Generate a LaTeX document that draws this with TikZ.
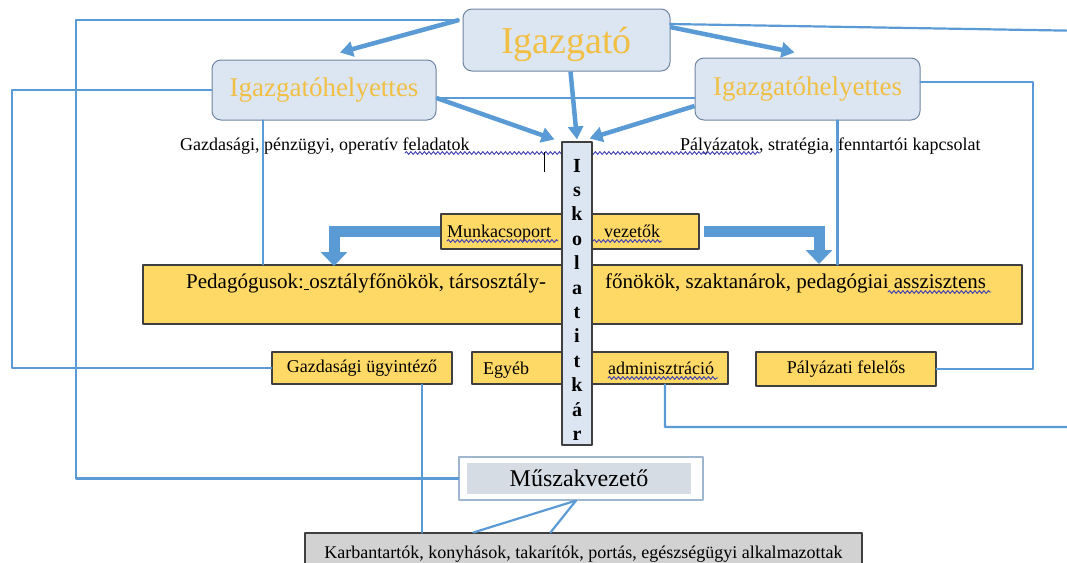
\documentclass[tikz,border=0pt]{standalone}
\usepackage{fontspec}
\setmainfont{Liberation Serif}
\usetikzlibrary{arrows.meta,decorations.pathmorphing}
\definecolor{linkblue}{HTML}{5B9BD5}
\definecolor{boxfill}{HTML}{DCE6F2}
\definecolor{boxedge}{HTML}{6F84A0}
\definecolor{goldtext}{HTML}{F2BF45}
\definecolor{goldfill}{HTML}{FFD966}
\definecolor{darkedge}{HTML}{3F3F3F}
\definecolor{spellblue}{HTML}{3C3CB4}
\definecolor{grayfill}{HTML}{D2D2D2}
\definecolor{mufill}{HTML}{D6DCE4}
\definecolor{muedge}{HTML}{9FB6CF}
\newcommand{\fsz}[1]{\fontsize{#1}{#1}\selectfont}

\begin{document}
\begin{tikzpicture}[x=1pt, y=-1pt, line join=round, line cap=round,
    headbox/.style={draw=boxedge, fill=boxfill, line width=1pt, rounded corners=9pt, text=goldtext, inner sep=0pt},
    goldbox/.style={draw=darkedge, fill=goldfill, line width=1.1pt, inner sep=0pt},
    txt/.style={inner sep=0pt, font=\fsz{18}},
    link/.style={linkblue, line width=2.2pt},
    fatarrow/.style={linkblue, line width=4.5pt, line cap=butt, -{Triangle[width=15pt,length=13pt]}},
    bentarrow/.style={linkblue, line width=11pt, line cap=butt, line join=miter, -{Triangle[width=26pt,length=14pt]}},
    spell/.style={spellblue, line width=0.9pt, decorate, decoration={snake, amplitude=1.4pt, segment length=4.5pt}}]
  \useasboundingbox (0,0) rectangle (1067,562);

  \node[headbox, minimum width=207pt, minimum height=62pt, font=\fsz{38}, text depth=0pt] (igazgato) at (566.5,40) {Igazgató};
  \node[headbox, minimum width=224pt, minimum height=60pt, font=\fsz{27}] (ihl) at (324,90) {Igazgatóhelyettes};
  \node[headbox, minimum width=225pt, minimum height=62pt, font=\fsz{27}] (ihr) at (807.5,89) {Igazgatóhelyettes};

  \node[txt, anchor=base west] (gazdfel) at (180,150) {Gazdasági, pénzügyi, operatív feladatok};
  \node[txt, anchor=base west] (palyfel) at (680,150) {Pályázatok, stratégia, fenntartói kapcsolat};

  \node[goldbox, minimum width=258pt, minimum height=35pt] (munka) at (570,231.5) {};
  \node[txt, anchor=base west] (munka1) at (447,237) {Munkacsoport};
  \node[txt, anchor=base west] (munka2) at (604,237) {vezetők};

  \node[goldbox, minimum width=879pt, minimum height=59pt] (ped) at (582.5,294.5) {};
  \node[txt, font=\fsz{21}, anchor=base west] (ped1) at (186,288) {Pedagógusok:\underline{\ }osztályfőnökök, társosztály-};
  \node[txt, font=\fsz{21}, anchor=base west] (ped2) at (605,288) {főnökök, szaktanárok, pedagógiai asszisztens};

  \node[goldbox, minimum width=180pt, minimum height=32pt, font=\fsz{18}] (gazd) at (362,368) {Gazdasági ügyintéző};
  \node[goldbox, minimum width=256pt, minimum height=32pt] (egyeb) at (600,368) {};
  \node[txt, anchor=base west] (egyeb1) at (483,374) {Egyéb};
  \node[txt, anchor=base west] (egyeb2) at (608,374) {adminisztráció};
  \node[goldbox, minimum width=180pt, minimum height=34pt, font=\fsz{18}] (pal) at (846,369) {Pályázati felelős};

  \node[draw=muedge, fill=white, line width=1.2pt, minimum width=244pt, minimum height=43pt] (musz) at (581,478.5) {};
  \node[fill=mufill, minimum width=224pt, minimum height=31pt, inner sep=0pt, font=\fsz{24}] (muszt) at (579,478.5) {Műszakvezető};
  \node[draw=darkedge, fill=grayfill, line width=1.1pt, minimum width=557pt, minimum height=42pt, inner sep=0pt, font=\fsz{18}] (karb) at (583.5,554) {Karbantartók, konyhások, takarítók, portás, egészségügyi alkalmazottak};

  \draw[spell] (405,153) -- (760,153);
  \draw[spell] (447,241) -- (558,241);
  \draw[spell] (593,241) -- (662,241);
  \draw[spell] (888,292) -- (991,292);
  \draw[spell] (608,378) -- (718,378);
  \draw[black, line width=0.8pt, line cap=butt] (544,152) -- (544,172);

  \node[draw=darkedge, fill=boxfill, line width=1.1pt, minimum width=30pt, minimum height=303pt, inner sep=0pt] (isk) at (577,293.5) {};
  \foreach \c [count=\i from 0] in {I,s,k,o,l,a,t,i,t,k,á,r}
    \node[txt, font=\fsz{20}\bfseries, anchor=base] (isk\i) at (577,{172+24.4*\i}) {\c};

  \coordinate (igL) at (459,20);
  \coordinate (igR) at (670,24);
  \draw[link] (igL) -- (76,20) |- (musz.west);
  \draw[link] (igR) -- (1090,31) -- (1090,427) -| ([xshift=65pt]egyeb.south);
  \draw[link] (ihl.west) -- (12,90) |- (gazd.west);
  \draw[link] ([yshift=-8pt]ihl.east) -- ([yshift=-9pt]ihr.west);
  \draw[link] ([xshift=-61pt]ihl.south) coordinate (ihlfoot) -- (ihlfoot |- ped.north);
  \draw[link] ([yshift=7pt]ihr.east) -- (1033,82) |- (pal.east);
  \draw[link] ([xshift=30pt]ihr.south) coordinate (ihrfoot) -- (ihrfoot |- ped.north);
  \draw[link] ([xshift=60pt]gazd.south) coordinate (gazdfoot) -- (gazdfoot |- karb.north);
  \draw[link] ([xshift=-5pt]musz.south) -- ([xshift=-110pt]karb.north);
  \draw[link] ([xshift=-5pt]musz.south) -- ([xshift=-33pt]karb.north);

  \draw[fatarrow] (igL) -- ([xshift=16pt,yshift=7pt]ihl.north);
  \draw[fatarrow] ([yshift=-3pt]igR) -- ([xshift=-13pt,yshift=5pt]ihr.north);
  \draw[fatarrow] ([xshift=4pt]igazgato.south) -- ([yshift=2pt]isk.north);
  \draw[fatarrow] ([yshift=-8pt]ihl.east) -- ([xshift=-7pt,yshift=2pt]isk.north west);
  \draw[fatarrow] ([yshift=-17pt]ihr.west) -- ([xshift=-3pt,yshift=3pt]isk.north east);

  \draw[bentarrow] (munka.west) -- (334,231.5) -- (334,266);
  \draw[bentarrow] ([xshift=4pt]munka.east) -- (819,231.5) -- (819,264);
\end{tikzpicture}
\end{document}
